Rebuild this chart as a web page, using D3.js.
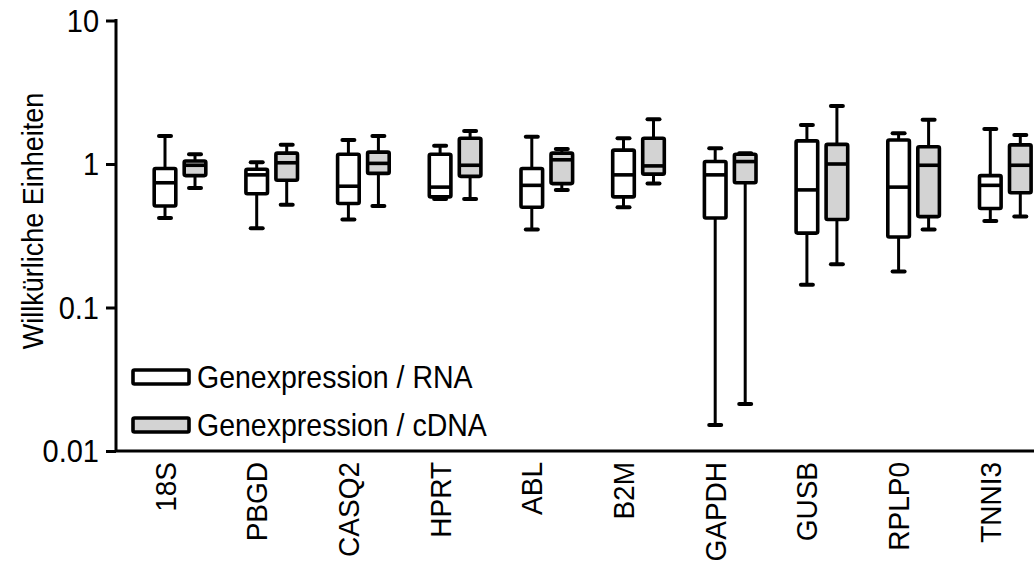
<!DOCTYPE html>
<html>
<head>
<meta charset="utf-8">
<script src="https://cdn.jsdelivr.net/npm/d3@7/dist/d3.min.js"></script>
<style>
  html, body { margin: 0; padding: 0; background: #fff; }
  svg { display: block; font-family: "Liberation Sans", Arial, Helvetica, sans-serif; }
</style>
</head>
<body>
<svg id="chart" width="1034" height="564"></svg>
<script>
// ---- data ----
const categories = ["18S", "PBGD", "CASQ2", "HPRT", "ABL", "B2M", "GAPDH", "GUSB", "RPLP0", "TNNI3"];
const seriesNames = ["Genexpression / RNA", "Genexpression / cDNA"];

const rnaMin = [0.42, 0.356, 0.41, 0.57, 0.35, 0.50, 0.0152, 0.144, 0.178, 0.40];
const rnaQ1  = [0.51, 0.62, 0.53, 0.59, 0.50, 0.59, 0.42, 0.33, 0.31, 0.49];
const rnaMed = [0.74, 0.84, 0.70, 0.69, 0.71, 0.84, 0.84, 0.66, 0.69, 0.71];
const rnaQ3  = [0.93, 0.92, 1.17, 1.17, 0.93, 1.25, 1.04, 1.45, 1.47, 0.83];
const rnaMax = [1.57, 1.03, 1.47, 1.34, 1.55, 1.51, 1.29, 1.87, 1.64, 1.75];

const cdnaMin = [0.68, 0.52, 0.51, 0.57, 0.66, 0.73, 0.0213, 0.20, 0.35, 0.43];
const cdnaQ1  = [0.83, 0.77, 0.86, 0.82, 0.73, 0.85, 0.74, 0.41, 0.43, 0.63];
const cdnaMed = [0.98, 1.02, 1.01, 0.98, 1.07, 0.97, 1.04, 1.00, 0.98, 0.98];
const cdnaQ3  = [1.05, 1.19, 1.21, 1.51, 1.19, 1.51, 1.17, 1.37, 1.32, 1.36];
const cdnaMax = [1.17, 1.36, 1.57, 1.70, 1.27, 2.05, 1.19, 2.54, 2.03, 1.59];

const yTicks = [0.01, 0.1, 1, 10];
const yTickLabels = ["0.01", "0.1", "1", "10"];
const yTitle = "Willkürliche  Einheiten";
const fills = ["#ffffff", "#d3d3d3"];

// ---- build ----
const svg = d3.select("#chart");
const FONT = 28;
const GLYPH_K = 1.08; // glyph height stretch of the reference typeface

const y = d3.scaleLog().domain([0.01, 10]).range([451, 20.5]);
const x = d3.scalePoint().domain(categories).range([180, 180 + 91.7 * 9]);
const xs = d3.scaleBand().domain(seriesNames).range([-27.5, 27.5]).paddingInner(1 / 6);

const seriesData = [
  { name: seriesNames[0], min: rnaMin, q1: rnaQ1, med: rnaMed, q3: rnaQ3, max: rnaMax, fill: fills[0] },
  { name: seriesNames[1], min: cdnaMin, q1: cdnaQ1, med: cdnaMed, q3: cdnaQ3, max: cdnaMax, fill: fills[1] }
];

const boxes = [];
seriesData.forEach(s => {
  categories.forEach((c, i) => {
    boxes.push({ cat: c, series: s.name, fill: s.fill,
      min: s.min[i], q1: s.q1[i], med: s.med[i], q3: s.q3[i], max: s.max[i] });
  });
});

const bw = xs.bandwidth();
const g = svg.append("g");
const bx = g.selectAll("g.box").data(boxes).join("g")
  .attr("class", "box")
  .attr("transform", d => `translate(${x(d.cat) + xs(d.series) + bw / 2},0)`);

// whiskers
bx.append("line")
  .attr("x1", 0).attr("x2", 0)
  .attr("y1", d => y(d.max)).attr("y2", d => y(d.min))
  .attr("stroke", "#000").attr("stroke-width", 3);
bx.append("line")
  .attr("x1", -6).attr("x2", 6)
  .attr("y1", d => y(d.max)).attr("y2", d => y(d.max))
  .attr("stroke", "#000").attr("stroke-width", 4).attr("stroke-linecap", "round");
bx.append("line")
  .attr("x1", -6).attr("x2", 6)
  .attr("y1", d => y(d.min)).attr("y2", d => y(d.min))
  .attr("stroke", "#000").attr("stroke-width", 4).attr("stroke-linecap", "round");
// box
bx.append("rect")
  .attr("x", -bw / 2 + 1.7).attr("width", bw - 3.4)
  .attr("y", d => y(d.q3)).attr("height", d => y(d.q1) - y(d.q3))
  .attr("fill", d => d.fill).attr("stroke", "#000").attr("stroke-width", 3.6)
  .attr("rx", 1.5);
// median
bx.append("line")
  .attr("x1", -bw / 2 + 1.7).attr("x2", bw / 2 - 1.7)
  .attr("y1", d => y(d.med)).attr("y2", d => y(d.med))
  .attr("stroke", "#000").attr("stroke-width", 3.6);

// ---- axes ----
const yAxis = d3.axisLeft(y).tickValues(yTicks)
  .tickFormat((d, i) => yTickLabels[i]).tickSize(10).tickPadding(7);
const yg = svg.append("g").attr("transform", "translate(116,0)").call(yAxis);
yg.select(".domain").attr("stroke", "#000").attr("stroke-width", 3)
  .attr("d", `M0,${y(10) - 1.5}V${y(0.01)}`);
yg.selectAll(".tick line").attr("stroke", "#000").attr("stroke-width", 3);
yg.selectAll(".tick text").attr("font-size", FONT + 1).attr("fill", "#000")
  .attr("font-family", "Liberation Sans, Arial, sans-serif")
  .attr("dy", "0.34em")
  .attr("transform", `scale(1,${GLYPH_K})`);

const xAxis = d3.axisBottom(x).tickSize(0).tickPadding(0)
  .offset(0);
const xg = svg.append("g").attr("transform", `translate(0,${y(0.01)})`).call(xAxis);
xg.select(".domain").attr("stroke", "#000").attr("stroke-width", 3)
  .attr("d", `M116,0H1040`);
xg.selectAll(".tick").attr("transform", d => `translate(${x(d) + xs(seriesNames[0]) + bw / 2},0)`);
xg.selectAll(".tick text")
  .attr("font-size", FONT).attr("fill", "#000")
  .attr("font-family", "Liberation Sans, Arial, sans-serif")
  .attr("text-anchor", "end")
  .attr("transform", `translate(0,11) rotate(-90) scale(1,${GLYPH_K})`)
  .attr("x", 0).attr("y", 0).attr("dy", "0.35em");

// y title
svg.append("text")
  .attr("transform", `translate(33,221) rotate(-90) scale(1,${GLYPH_K})`)
  .attr("text-anchor", "middle").attr("dy", "0.35em")
  .attr("font-size", FONT - 1).attr("fill", "#000")
  .text(yTitle);

// legend
const legend = svg.append("g");
const legY = [377, 425];
seriesNames.forEach((n, i) => {
  legend.append("rect")
    .attr("x", 133).attr("y", legY[i] - 7).attr("width", 56).attr("height", 14)
    .attr("fill", fills[i]).attr("stroke", "#000").attr("stroke-width", 3.6).attr("rx", 1.5);
  legend.append("text")
    .attr("transform", `translate(197,${legY[i]}) scale(1,${GLYPH_K})`)
    .attr("dy", "0.36em")
    .attr("font-size", FONT + 0.5).attr("fill", "#000")
    .text(n);
});
</script>
</body>
</html>
